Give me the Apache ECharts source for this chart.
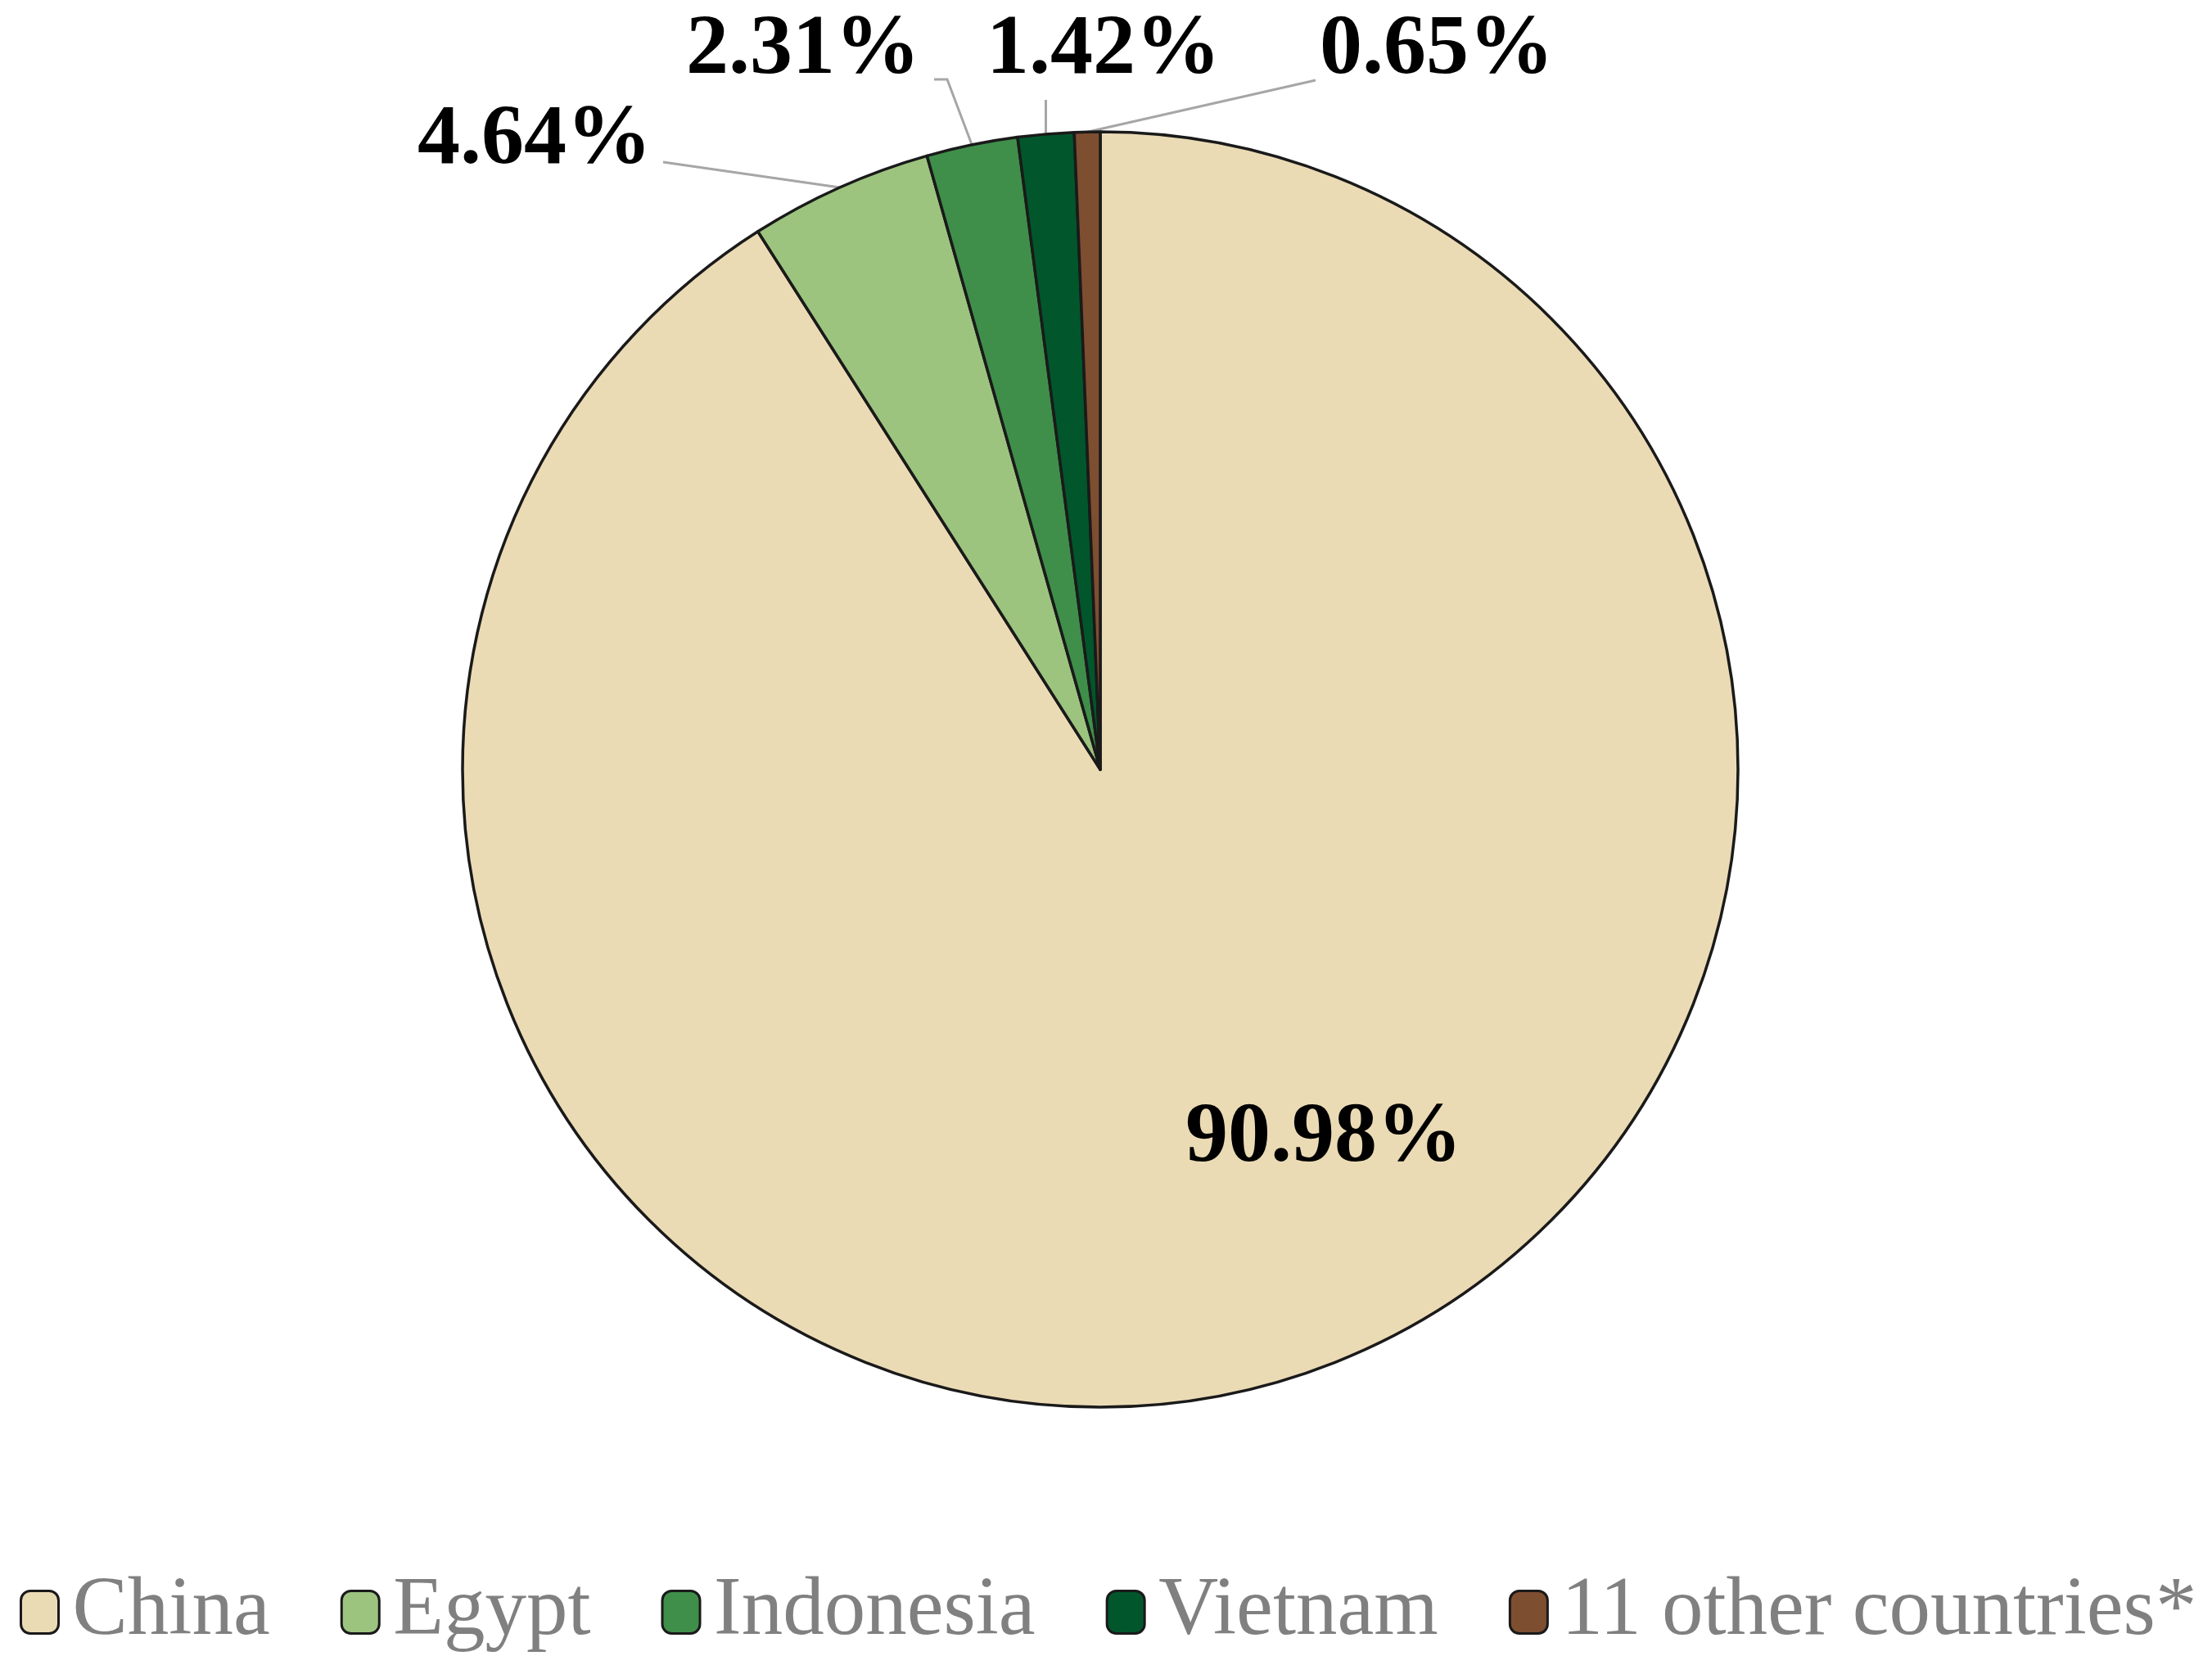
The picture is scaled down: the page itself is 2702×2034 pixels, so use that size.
<!DOCTYPE html>
<html><head><meta charset="utf-8">
<script src="https://cdn.jsdelivr.net/npm/echarts@6/dist/echarts.min.js"></script>
<style>html,body{margin:0;padding:0;background:#fff}#c{width:2702px;height:2034px}</style>
</head><body><div id="c"></div>
<script>
// ---- data ----
const categories = ['China', 'Egypt', 'Indonesia', 'Vietnam', '11 other countries*'];
const shares = [90.98, 4.64, 2.31, 1.42, 0.65];
const colors = ['#EBDBB5', '#9CC47F', '#3F8F4A', '#01572B', '#7E4E31'];

// ---- layout ----
const CX = 1344, CY = 940, R = 779;
const labelPos = [[1617, 1391], [653, 172], [981, 62], [1348, 62], [1755, 62]];

const total = shares.reduce((a, b) => a + b, 0);
function edgePoint(i) {
  let cum = 0;
  for (let k = 0; k < i; k++) cum += shares[k];
  const a = (cum + shares[i] / 2) / total * Math.PI * 2;
  return [CX + R * Math.sin(a), CY - R * Math.cos(a)];
}

function labelLayout(p) {
  const i = p.dataIndex;
  const [cx, cy] = labelPos[i];
  const w = p.labelRect.width;
  const out = { x: cx, y: cy, align: 'center', verticalAlign: 'middle' };
  const e = (p.labelLinePoints && p.labelLinePoints[0]) ? p.labelLinePoints[0] : edgePoint(i);
  const right = cx + w / 2, left = cx - w / 2;
  if (i === 1) out.labelLinePoints = [e, [right + 14, cy + 26], [right + 14, cy + 26]];
  if (i === 2) out.labelLinePoints = [e, [right + 33, cy + 35], [right + 17, cy + 35]];
  if (i === 3) out.labelLinePoints = [e, [e[0], cy + 60], [e[0], cy + 60]];
  if (i === 4) out.labelLinePoints = [e, [left - 5, cy + 36], [left - 5, cy + 36]];
  return out;
}

const chart = echarts.init(document.getElementById('c'), null, { renderer: 'canvas' });
chart.setOption({
  animation: false,
  backgroundColor: '#ffffff',
  legend: {
    left: 19,
    top: 1914,
    width: 2683,
    orient: 'horizontal',
    itemWidth: 46,
    itemHeight: 52,
    itemGap: 86,
    icon: 'roundRect',
    itemStyle: { borderColor: '#1a1a1a', borderWidth: 3 },
    textStyle: { fontFamily: 'Liberation Serif', fontSize: 101, color: '#808080', padding: [0, 0, 0, 12] },
    data: categories
  },
  series: [{
    type: 'pie',
    center: [CX, CY],
    radius: R,
    startAngle: 90,
    clockwise: true,
    avoidLabelOverlap: false,
    emphasis: { disabled: true },
    itemStyle: { borderColor: '#1a1a1a', borderWidth: 3.5 },
    label: {
      show: true,
      position: 'outside',
      formatter: p => p.value.toFixed(2) + '%',
      fontFamily: 'Liberation Serif',
      fontWeight: 'bold',
      fontSize: 104,
      color: '#000000'
    },
    labelLine: { show: true, length: 20, length2: 20, lineStyle: { color: '#A6A6A6', width: 3 } },
    labelLayout: labelLayout,
    data: categories.map((n, i) => ({
      name: n,
      value: shares[i],
      itemStyle: { color: colors[i] },
      label: i === 0 ? { position: 'inside' } : {},
      labelLine: i === 0 ? { show: false } : {}
    }))
  }]
});
</script>
</body></html>
